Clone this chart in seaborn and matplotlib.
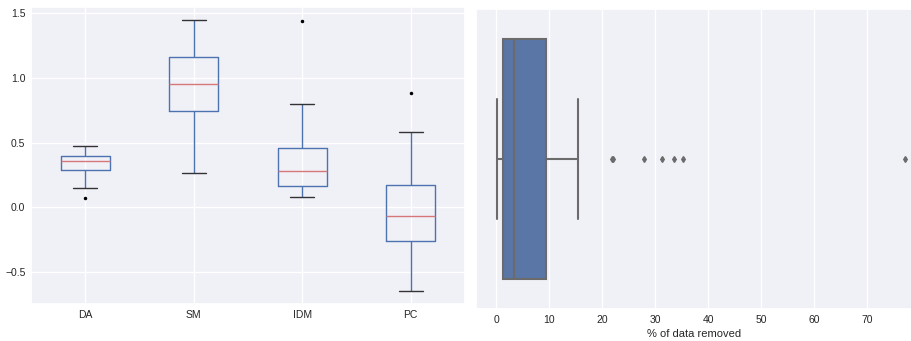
import matplotlib
matplotlib.use("Agg")
import matplotlib.pyplot as plt
import seaborn as sns
import pandas as pd

# left panel: box statistics per measure
measures = ["DA", "SM", "IDM", "PC"]
whisker_low = [0.149, 0.262, 0.082, -0.641]
q1 = [0.292, 0.744, 0.164, -0.259]
median = [0.354, 0.954, 0.277, -0.064]
q3 = [0.395, 1.159, 0.454, 0.169]
whisker_high = [0.472, 1.441, 0.800, 0.582]
fliers = [[0.072], [], [1.438], [0.885]]

# right panel: % of data removed (sample)
pct_removed = [0.1, 0.3, 0.4, 0.6, 0.8, 0.9, 1.0, 1.2, 1.3, 1.5, 1.8, 2.0, 2.3,
               2.5, 2.8, 3.0, 3.3, 3.9, 4.6, 5.2, 6.0, 6.8, 7.7, 8.6, 9.4, 15.5,
               21.8, 22.1, 28.0, 31.3, 33.6, 35.2, 77.2]

sns.set_theme(style="darkgrid", rc={"axes.facecolor": "#f0f0f7"})
plt.rcParams["font.family"] = ["Liberation Sans", "DejaVu Sans"]
plt.rcParams["xtick.labelsize"] = 7.5
plt.rcParams["ytick.labelsize"] = 7.5
plt.rcParams["axes.labelsize"] = 8
plt.rcParams["xtick.major.size"] = 0
plt.rcParams["ytick.major.size"] = 0
plt.rcParams["xtick.major.pad"] = 4.5
plt.rcParams["ytick.major.pad"] = 4

fig = plt.figure(figsize=(9.11, 3.41), dpi=100)
ax1 = fig.add_axes([31 / 911, 1 - 304 / 341, 434 / 911, 297 / 341])
ax2 = fig.add_axes([476 / 911, 1 - 309 / 341, 436 / 911, 300 / 341])

stats = []
for i, m in enumerate(measures):
    stats.append(dict(label=m, whislo=whisker_low[i], q1=q1[i], med=median[i],
                      q3=q3[i], whishi=whisker_high[i], fliers=fliers[i]))

blue = "#4c72b0"
ax1.bxp(stats, widths=0.45,
        boxprops=dict(color=blue, linewidth=1),
        whiskerprops=dict(color=blue, linewidth=1),
        capprops=dict(color="#333333", linewidth=1),
        medianprops=dict(color="#d6787a", linewidth=1),
        flierprops=dict(marker=".", markerfacecolor="black", markeredgecolor="black",
                        markersize=3))
ax1.set_ylim(-0.745, 1.545)
ax1.set_yticks([-0.5, 0.0, 0.5, 1.0, 1.5])

df = pd.DataFrame({"pct": pct_removed})
sns.boxplot(data=df, x="pct", ax=ax2, color="#5a76a6", saturation=1,
            linecolor="#6b6b6b", linewidth=1.5, width=0.8,
            flierprops=dict(marker="d", markerfacecolor="#6b6b6b",
                            markeredgecolor="#6b6b6b", markersize=3))
ax2.set_xlim(-3.8, 78.5)
ax2.set_xticks([0, 10, 20, 30, 40, 50, 60, 70])
ax2.set_xlabel("% of data removed", labelpad=3)
ax2.set_ylabel("")

fig.savefig("out.png", dpi=100)
